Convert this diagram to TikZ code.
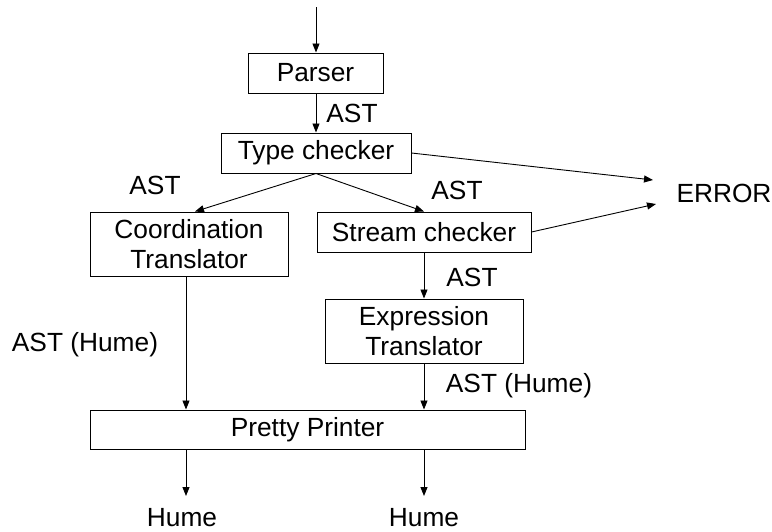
\documentclass[tikz,border=0pt]{standalone}
\usepackage{fontspec}
\setmainfont{Liberation Sans}
\usetikzlibrary{arrows.meta,calc}
\begin{document}
\begin{tikzpicture}[x=1pt,y=-1pt,
  every node/.style={font=\fontsize{26.3}{30}\selectfont},
  box/.style={draw, line width=1pt, inner sep=0pt, minimum width=#1, align=center},
  arr/.style={line width=0.9pt, -{Triangle[length=9pt,width=7pt]}},
  lbl/.style={inner sep=0pt}]
\useasboundingbox (0,0) rectangle (772,531);

% processing stages
\node[box=135pt, minimum height=40pt] (parser) at (315.5,73) {Parser};
\node[box=190pt, minimum height=40pt] (tc) at (316,153) {Type checker};
\node[box=198pt, minimum height=64pt] (coord) at (189,244) {Coordination\\Translator};
\node[box=214pt, minimum height=40pt] (sc) at (424,232) {Stream checker};
\node[box=198pt, minimum height=64pt] (et) at (424,331) {Expression\\Translator};
\node[box=435pt, minimum height=39pt] (pp) at (307.5,429.5) {Pretty Printer};

% outputs
\node[lbl] (err) at (724,193) {ERROR};
\node[lbl] (h1) at (182,518) {Hume};
\node[lbl] (h2) at (424,518) {Hume};

% connector end points
\coordinate (src) at (316,7);
\coordinate (e1) at (653,180);
\coordinate (e2) at (656,204);
\coordinate (cl) at (186,0);
\coordinate (cr) at (424,0);
\coordinate (o1) at (186,496);
\coordinate (o2) at (424,496);

% edge labels
\node[lbl] at (352,113) {AST};
\node[lbl] at (155,185) {AST};
\node[lbl] at (457,190) {AST};
\node[lbl] at (472,277) {AST};
\node[lbl] at (85,345) {AST (Hume)};
\node[lbl] at (519,386) {AST (Hume)};

% connectors
\draw[arr] (src) -- (src |- parser.north);
\draw[arr] (parser.south -| src) -- (tc.north -| src);
\draw[arr] (tc.south) -- ($(coord.north)+(6,0)$);
\draw[arr] (tc.south) -- (sc.north);
\draw[arr] (tc.east) -- (e1);
\draw[arr] (sc.east) -- (e2);
\draw[arr] (sc.south) -- (et.north);
\draw[arr] (coord.south -| cl) -- (pp.north -| cl);
\draw[arr] (et.south -| cr) -- (pp.north -| cr);
\draw[arr] (pp.south -| cl) -- (o1);
\draw[arr] (pp.south -| cr) -- (o2);
\end{tikzpicture}
\end{document}
